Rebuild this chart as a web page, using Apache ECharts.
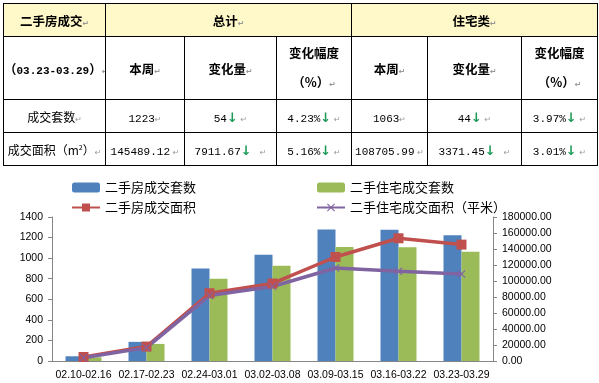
<!DOCTYPE html>
<html>
<head>
<meta charset="utf-8">
<script src="https://cdn.jsdelivr.net/npm/echarts@6/dist/echarts.min.js"></script>
<style>
html,body{margin:0;padding:0;background:#fff;width:599px;height:383px;overflow:hidden;}
#chart{position:absolute;left:0;top:0;width:599px;height:383px;}
#tbl{position:absolute;left:3px;top:3px;width:594px;border-collapse:collapse;table-layout:fixed;z-index:2;
  font-family:"Noto Sans CJK SC",sans-serif;font-size:12px;color:#000;}
#tbl td{border:1px solid #000;text-align:center;vertical-align:middle;padding:0;white-space:nowrap;overflow:hidden;}
#tbl tr.h td.y{background:#FFF9C9;}
#tbl .b{font-weight:bold;font-size:12.5px;}
#tbl .n{font-family:"Liberation Mono",monospace;font-size:11px;}
#tbl .a{color:#1B9B57;font-weight:bold;font-family:"DejaVu Sans",sans-serif;font-size:13px;}
#tbl .p{color:#999;font-family:"DejaVu Sans",sans-serif;font-size:8px;}
</style>
</head>
<body>
<table id="tbl">
<colgroup><col style="width:102px"><col style="width:79px"><col style="width:92px"><col style="width:75px"><col style="width:76px"><col style="width:94px"><col style="width:76px"></colgroup>
<tr class="h" style="height:33px"><td class="y b">二手房成交<span class="p">↵</span></td><td class="y b" colspan="3">总计<span class="p">↵</span></td><td class="y b" colspan="3">住宅类<span class="p">↵</span></td></tr>
<tr style="height:63px"><td class="b"><span>（</span><span class="n" style="font-weight:bold">03.23-03.29</span><span>）</span><span class="p">↵</span></td><td class="b">本周<span class="p">↵</span></td><td class="b">变化量<span class="p">↵</span></td><td class="b" style="line-height:29px">变化幅度<br>（%）<span class="p">↵</span></td><td class="b">本周<span class="p">↵</span></td><td class="b">变化量<span class="p">↵</span></td><td class="b" style="line-height:29px">变化幅度<br>（%）<span class="p">↵</span></td></tr>
<tr style="height:33px"><td>成交套数<span class="p">↵</span></td><td><span class="n">1223</span><span class="p">↵</span></td><td><span class="n">54</span><span class="a">↓</span> <span class="p">↵</span></td><td><span class="n">4.23%</span><span class="a">↓</span> <span class="p">↵</span></td><td><span class="n">1063</span><span class="p">↵</span></td><td><span class="n">44</span><span class="a">↓</span> <span class="p">↵</span></td><td><span class="n">3.97%</span><span class="a">↓</span> <span class="p">↵</span></td></tr>
<tr style="height:33px"><td>成交面积（m<sup style="font-size:7px">2</sup>）<span class="p">↵</span></td><td><span class="n">145489.12</span> <span class="p">↵</span></td><td><span class="n">7911.67</span><span class="a">↓</span>&nbsp;&nbsp; <span class="p">↵</span></td><td><span class="n">5.16%</span><span class="a">↓</span> <span class="p">↵</span></td><td><span class="n">108705.99</span> <span class="p">↵</span></td><td><span class="n">3371.45</span><span class="a">↓</span>&nbsp;&nbsp; <span class="p">↵</span></td><td><span class="n">3.01%</span><span class="a">↓</span> <span class="p">↵</span></td></tr>
</table>
<div id="chart"></div>
<script>
var categories = ['02.10-02.16','02.17-02.23','02.24-03.01','03.02-03.08','03.09-03.15','03.16-03.22','03.23-03.29'];
var totalCount = [46, 186, 900, 1034, 1279, 1277, 1223];
var resCount = [36, 166, 800, 927, 1109, 1107, 1063];
var totalArea = [5000, 18000, 84700, 96900, 130000, 153400.79, 145489.12];
var resArea = [4000, 16700, 81800, 93100, 116200, 112077.44, 108705.99];
var seriesNames = ['二手房成交套数','二手住宅成交套数','二手房成交面积','二手住宅成交面积（平米）'];

var chart = echarts.init(document.getElementById('chart'), null, {renderer:'canvas'});
var axisCol = '#868686';
var xMark = 'path://M0,1L1,0L5,4L9,0L10,1L6,5L10,9L9,10L5,6L1,10L0,9L4,5Z';
var lf = {fontFamily:'Noto Sans CJK SC', fontSize:13, color:'#000'};
chart.setOption({
  animation:false,
  textStyle:{fontFamily:'Liberation Sans'},
  legend:[
    {orient:'vertical', left:66, top:176, itemWidth:28, itemHeight:10, itemGap:7,
     data:[seriesNames[0], seriesNames[2]], textStyle:lf},
    {orient:'vertical', left:311, top:176, itemWidth:28, itemHeight:10, itemGap:7,
     data:[seriesNames[1], seriesNames[3]], textStyle:lf}
  ],
  grid:{left:52, right:106, top:217, bottom:22, containLabel:false},
  xAxis:{type:'category', data:categories, boundaryGap:true,
    axisLine:{lineStyle:{color:axisCol}}, axisTick:{interval:0, length:4, lineStyle:{color:axisCol}},
    axisLabel:{interval:0, color:'#000', fontSize:10.5, margin:9}},
  yAxis:[
    {type:'value', min:0, max:1400, interval:200, splitLine:{show:false},
     axisLine:{show:true, lineStyle:{color:axisCol}}, axisTick:{show:true, length:4, lineStyle:{color:axisCol}},
     axisLabel:{color:'#000', fontSize:10.5, margin:9, formatter:function(v){return String(v);}}},
    {type:'value', min:0, max:180000, interval:20000, splitLine:{show:false},
     axisLine:{show:true, lineStyle:{color:axisCol}}, axisTick:{show:true, length:4, lineStyle:{color:axisCol}},
     axisLabel:{color:'#000', fontSize:10.5, margin:9, formatter:function(v){return v.toFixed(2);}}}
  ],
  series:[
    {name:seriesNames[0], type:'bar', data:totalCount, barWidth:18, barGap:'0%', itemStyle:{color:'#4F81BD'}},
    {name:seriesNames[1], type:'bar', data:resCount, barWidth:18, barGap:'0%', itemStyle:{color:'#9BBB59'}},
    {name:seriesNames[2], type:'line', yAxisIndex:1, data:totalArea, symbol:'rect', symbolSize:10,
     lineStyle:{color:'#C0504D', width:3.5}, itemStyle:{color:'#C0504D'}},
    {name:seriesNames[3], type:'line', yAxisIndex:1, data:resArea, symbol:xMark, symbolSize:8,
     lineStyle:{color:'#8064A2', width:3.5}, itemStyle:{color:'#8064A2'}}
  ]
});
</script>
</body>
</html>
